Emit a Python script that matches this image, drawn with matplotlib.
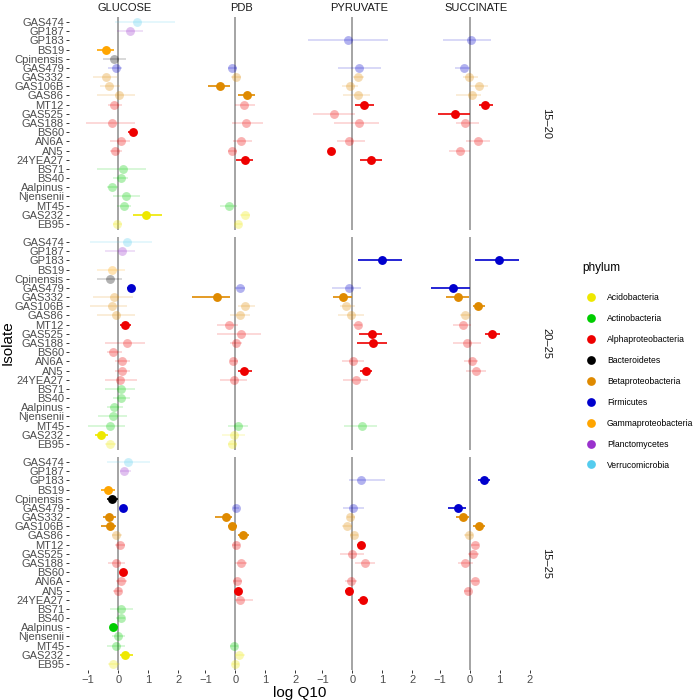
import matplotlib.pyplot as plt
from matplotlib.lines import Line2D

plt.rcParams["font.family"] = ["Liberation Sans", "DejaVu Sans"]

isolates = ["GAS474", "GP187", "GP183", "BS19", "Cpinensis", "GAS479", "GAS332",
            "GAS106B", "GAS86", "MT12", "GAS525", "GAS188", "BS60", "AN6A", "AN5",
            "24YEA27", "BS71", "BS40", "Aalpinus", "Njensenii", "MT45", "GAS232", "EB95"]
isolate_phylum = {
    "GAS474": "Verrucomicrobia", "GP187": "Planctomycetes", "GP183": "Firmicutes",
    "BS19": "Gammaproteobacteria", "Cpinensis": "Bacteroidetes", "GAS479": "Firmicutes",
    "GAS332": "Betaproteobacteria", "GAS106B": "Betaproteobacteria", "GAS86": "Betaproteobacteria",
    "MT12": "Alphaproteobacteria", "GAS525": "Alphaproteobacteria", "GAS188": "Alphaproteobacteria",
    "BS60": "Alphaproteobacteria", "AN6A": "Alphaproteobacteria", "AN5": "Alphaproteobacteria",
    "24YEA27": "Alphaproteobacteria", "BS71": "Actinobacteria", "BS40": "Actinobacteria",
    "Aalpinus": "Actinobacteria", "Njensenii": "Actinobacteria", "MT45": "Actinobacteria",
    "GAS232": "Acidobacteria", "EB95": "Acidobacteria",
}
phyla = ["Acidobacteria", "Actinobacteria", "Alphaproteobacteria", "Bacteroidetes",
         "Betaproteobacteria", "Firmicutes", "Gammaproteobacteria", "Planctomycetes",
         "Verrucomicrobia"]
phylum_colors = ["#EEE800", "#00CD00", "#EE0000", "#000000", "#DF8A00",
                 "#0000CD", "#FFA500", "#9A32CD", "#55CCEE"]

substrates = ["GLUCOSE", "PDB", "PYRUVATE", "SUCCINATE"]
temps = ["15\u201320", "20\u201325", "15\u201325"]

# (isolate, log Q10, lower, upper, significant)
glucose_15_20 = [
    ("GAS474", 0.61, -0.10, 1.89, 0), ("GP187", 0.39, -0.05, 0.83, 0),
    ("BS19", -0.41, -0.70, -0.15, 1), ("Cpinensis", -0.13, -0.50, 0.26, 0),
    ("GAS479", -0.08, -0.33, 0.11, 0), ("GAS332", -0.41, -0.83, -0.05, 0),
    ("GAS106B", -0.30, -0.61, 0.05, 0), ("GAS86", 0.02, -0.72, 0.56, 0),
    ("MT12", -0.13, -0.33, 0.11, 0), ("GAS188", -0.21, -1.08, 0.56, 0),
    ("BS60", 0.48, 0.33, 0.63, 1), ("AN6A", 0.08, -0.28, 0.39, 0),
    ("AN5", -0.11, -0.28, 0.11, 0), ("BS71", 0.17, -0.72, 0.91, 0),
    ("BS40", 0.08, -0.17, 0.33, 0), ("Aalpinus", -0.20, -0.39, 0.00, 0),
    ("Njensenii", 0.26, -0.17, 0.72, 0), ("MT45", 0.19, -0.05, 0.44, 0),
    ("GAS232", 0.94, 0.50, 1.47, 1), ("EB95", -0.03, -0.17, 0.11, 0),
]
pdb_15_20 = [
    ("GAS479", -0.10, -0.25, 0.05, 0), ("GAS332", 0.02, -0.15, 0.20, 0),
    ("GAS106B", -0.52, -0.90, -0.18, 1), ("GAS86", 0.40, 0.10, 0.66, 1),
    ("MT12", 0.28, 0.00, 0.66, 0), ("GAS188", 0.36, -0.12, 0.93, 0),
    ("AN6A", 0.19, -0.07, 0.54, 0), ("AN5", -0.12, -0.23, 0.04, 0),
    ("24YEA27", 0.31, 0.02, 0.60, 1), ("MT45", -0.21, -0.51, 0.04, 0),
    ("GAS232", 0.33, 0.16, 0.49, 0), ("EB95", 0.09, -0.01, 0.21, 0),
]
pyruvate_15_20 = [
    ("GP183", -0.16, -1.47, 1.20, 0), ("GAS479", 0.22, -0.49, 0.96, 0),
    ("GAS332", 0.20, 0.03, 0.37, 0), ("GAS106B", -0.07, -0.36, 0.20, 0),
    ("GAS86", 0.18, -0.30, 0.59, 0), ("MT12", 0.39, 0.09, 0.72, 1),
    ("GAS525", -0.60, -1.33, 0.09, 0), ("GAS188", 0.22, -0.63, 0.87, 0),
    ("AN6A", -0.10, -0.52, 0.42, 0), ("AN5", -0.71, -0.80, -0.60, 1),
    ("24YEA27", 0.62, 0.26, 0.98, 1),
]
succinate_15_20 = [
    ("GP183", 0.04, -0.89, 0.72, 0), ("GAS479", -0.19, -0.50, 0.00, 0),
    ("GAS332", -0.03, -0.22, 0.28, 0), ("GAS106B", 0.33, 0.00, 0.61, 0),
    ("GAS86", 0.08, -0.44, 0.39, 0), ("MT12", 0.53, 0.33, 0.78, 1),
    ("GAS525", -0.50, -1.06, 0.00, 1), ("GAS188", -0.16, -0.44, 0.33, 0),
    ("AN6A", 0.27, -0.11, 0.67, 0), ("AN5", -0.31, -0.67, 0.00, 0),
]
glucose_20_25 = [
    ("GAS474", 0.29, -0.94, 1.11, 0), ("GP187", 0.11, -0.44, 0.56, 0),
    ("BS19", -0.21, -0.72, 0.22, 0), ("Cpinensis", -0.27, -0.72, 0.11, 0),
    ("GAS479", 0.41, 0.28, 0.56, 1), ("GAS332", -0.13, -0.83, 0.50, 0),
    ("GAS106B", -0.21, -0.94, 0.28, 0), ("GAS86", -0.06, -0.72, 0.56, 0),
    ("MT12", 0.22, 0.06, 0.41, 1), ("GAS188", 0.28, -0.44, 0.89, 0),
    ("BS60", -0.16, -0.39, 0.11, 0), ("AN6A", 0.14, -0.11, 0.39, 0),
    ("AN5", 0.12, -0.11, 0.39, 0), ("24YEA27", 0.06, -0.44, 0.61, 0),
    ("BS71", 0.10, -0.44, 0.56, 0), ("BS40", 0.10, -0.17, 0.39, 0),
    ("Aalpinus", -0.13, -0.39, 0.17, 0), ("Njensenii", -0.19, -0.67, 0.28, 0),
    ("MT45", -0.27, -1.00, 0.22, 0), ("GAS232", -0.58, -0.78, -0.33, 1),
    ("EB95", -0.27, -0.44, -0.06, 0),
]
pdb_20_25 = [
    ("GAS479", 0.17, -0.01, 0.32, 0), ("GAS332", -0.61, -1.43, -0.18, 1),
    ("GAS106B", 0.32, 0.10, 0.66, 0), ("GAS86", 0.14, -0.18, 0.49, 0),
    ("MT12", -0.20, -0.62, 0.10, 0), ("GAS525", 0.18, -0.62, 0.86, 0),
    ("GAS188", 0.01, -0.18, 0.21, 0), ("AN6A", -0.07, -0.18, 0.10, 0),
    ("AN5", 0.30, 0.10, 0.57, 1), ("24YEA27", -0.03, -0.51, 0.38, 0),
    ("MT45", 0.10, -0.26, 0.41, 0), ("GAS232", -0.04, -0.46, 0.32, 0),
    ("EB95", -0.10, -0.23, 0.04, 0),
]
pyruvate_20_25 = [
    ("GP183", 0.98, 0.20, 1.64, 1), ("GAS479", -0.13, -0.69, 0.29, 0),
    ("GAS332", -0.33, -0.66, -0.02, 1), ("GAS106B", -0.23, -0.41, 0.09, 0),
    ("GAS86", -0.04, -0.47, 0.37, 0), ("MT12", 0.18, 0.03, 0.31, 0),
    ("GAS525", 0.64, 0.23, 1.00, 1), ("GAS188", 0.67, 0.14, 1.14, 1),
    ("AN6A", 0.02, -0.36, 0.40, 0), ("AN5", 0.44, 0.26, 0.64, 1),
    ("24YEA27", 0.13, -0.30, 0.53, 0), ("MT45", 0.31, -0.27, 0.81, 0),
]
succinate_20_25 = [
    ("GP183", 0.97, 0.19, 1.64, 1), ("GAS479", -0.56, -1.28, 0.00, 1),
    ("GAS332", -0.38, -0.78, -0.02, 1), ("GAS106B", 0.29, 0.11, 0.50, 1),
    ("GAS86", -0.14, -0.33, 0.06, 0), ("MT12", -0.21, -0.56, 0.06, 0),
    ("GAS525", 0.74, 0.50, 1.02, 1), ("GAS188", -0.08, -0.56, 0.39, 0),
    ("AN6A", 0.07, -0.17, 0.28, 0), ("AN5", 0.23, -0.11, 0.56, 0),
]
glucose_15_25 = [
    ("GAS474", 0.34, -0.39, 1.06, 0), ("GP187", 0.20, 0.06, 0.44, 0),
    ("BS19", -0.33, -0.56, -0.11, 1), ("Cpinensis", -0.20, -0.39, 0.00, 1),
    ("GAS479", 0.16, 0.06, 0.26, 1), ("GAS332", -0.30, -0.50, -0.06, 1),
    ("GAS106B", -0.29, -0.56, -0.06, 1), ("GAS86", -0.08, -0.22, 0.11, 0),
    ("MT12", 0.06, -0.11, 0.22, 0), ("GAS188", -0.06, -0.33, 0.22, 0),
    ("BS60", 0.16, 0.06, 0.28, 1), ("AN6A", 0.10, -0.06, 0.28, 0),
    ("AN5", -0.01, -0.17, 0.11, 0), ("BS71", 0.08, -0.28, 0.50, 0),
    ("BS40", 0.08, -0.06, 0.22, 0), ("Aalpinus", -0.16, -0.28, 0.00, 1),
    ("Njensenii", 0.00, -0.22, 0.22, 0), ("MT45", -0.08, -0.39, 0.22, 0),
    ("GAS232", 0.24, 0.06, 0.50, 1), ("EB95", -0.16, -0.33, 0.06, 0),
]
pdb_15_25 = [
    ("GAS479", 0.02, -0.07, 0.12, 0), ("GAS332", -0.31, -0.68, -0.12, 1),
    ("GAS106B", -0.10, -0.23, 0.04, 1), ("GAS86", 0.27, 0.10, 0.46, 1),
    ("MT12", 0.02, -0.10, 0.16, 0), ("GAS188", 0.18, -0.01, 0.38, 0),
    ("AN6A", 0.07, -0.07, 0.21, 0), ("AN5", 0.08, -0.01, 0.18, 1),
    ("24YEA27", 0.14, -0.01, 0.60, 0), ("MT45", -0.06, -0.18, 0.10, 0),
    ("GAS232", 0.13, -0.01, 0.32, 0), ("EB95", -0.01, -0.12, 0.12, 0),
]
pyruvate_15_25 = [
    ("GP183", 0.30, -0.13, 1.07, 0), ("GAS479", 0.02, -0.33, 0.40, 0),
    ("GAS332", -0.08, -0.19, 0.07, 0), ("GAS106B", -0.18, -0.36, -0.02, 0),
    ("GAS86", 0.04, -0.08, 0.20, 0), ("MT12", 0.28, 0.14, 0.42, 1),
    ("GAS525", 0.00, -0.41, 0.37, 0), ("GAS188", 0.41, 0.09, 0.76, 0),
    ("AN6A", -0.04, -0.24, 0.14, 0), ("AN5", -0.13, -0.24, -0.02, 1),
    ("24YEA27", 0.34, 0.20, 0.51, 1),
]
succinate_15_25 = [
    ("GP183", 0.47, 0.28, 0.67, 1), ("GAS479", -0.38, -0.72, -0.11, 1),
    ("GAS332", -0.22, -0.44, -0.02, 1), ("GAS106B", 0.30, 0.11, 0.50, 1),
    ("GAS86", -0.03, -0.17, 0.13, 0), ("MT12", 0.18, 0.06, 0.31, 0),
    ("GAS525", 0.12, -0.06, 0.33, 0), ("GAS188", -0.14, -0.39, 0.11, 0),
    ("AN6A", 0.17, 0.00, 0.33, 0), ("AN5", -0.06, -0.17, 0.06, 0),
]

facets = [
    [glucose_15_20, pdb_15_20, pyruvate_15_20, succinate_15_20],
    [glucose_20_25, pdb_20_25, pyruvate_20_25, succinate_20_25],
    [glucose_15_25, pdb_15_25, pyruvate_15_25, succinate_15_25],
]

color_of = dict(zip(phyla, phylum_colors))
W = H = 700
fig = plt.figure(figsize=(7, 7), dpi=100)


def px_axes(x0, y0, w, h):
    return fig.add_axes([x0 / W, 1 - (y0 + h) / H, w / W, h / H])


panel_left, panel_w, panel_gap = 69, 111.4, 5.7
panel_top, panel_h, row_gap = 16.5, 213, 7
tick_col = "#4D4D4D"

for r, temp in enumerate(temps):
    for c, sub in enumerate(substrates):
        x0 = panel_left + c * (panel_w + panel_gap)
        y0 = panel_top + r * (panel_h + row_gap)
        ax = px_axes(x0, y0, panel_w, panel_h)
        ax.axvline(0, color="#8C8C8C", lw=1.1, zorder=1)
        for name, est, lo, hi, sig in facets[r][c]:
            y = isolates.index(name)
            col = color_of[isolate_phylum[name]]
            ax.hlines(y, lo, hi, color=col, lw=1.2, alpha=1 if sig else 0.18, zorder=2)
            ax.plot(est, y, "o", ms=6.4, color=col, mec="none",
                    alpha=1 if sig else 0.3, zorder=3)
        ax.set_xlim(-1.64, 2.07)
        ax.set_ylim(len(isolates) - 0.4, -0.6)
        ax.set_xticks([-1, 0, 1, 2])
        ax.set_xticklabels(["\u22121", "0", "1", "2"])
        ax.set_yticks(range(len(isolates)))
        ax.set_yticklabels(isolates)
        ax.tick_params(length=2.2, width=0.7, color="#333333", labelcolor=tick_col,
                       labelsize=8, pad=1.5)
        if c > 0:
            ax.tick_params(axis="y", left=False, labelleft=False)
        if r < 2:
            ax.tick_params(axis="x", bottom=False, labelbottom=False)
        for s in ax.spines.values():
            s.set_visible(False)
        ax.set_facecolor("none")
        if r == 0:
            fig.text((x0 + panel_w / 2) / W, 1 - 8 / H, sub, ha="center", va="center",
                     fontsize=8, color="#1A1A1A")
        if c == 3:
            fig.text(546 / W, 1 - (y0 + panel_h / 2) / H, temp, ha="center", va="center",
                     rotation=-90, fontsize=8, color="#1A1A1A")

fig.text(8 / W, 1 - 343 / H, "Isolate", rotation=90, ha="center", va="center", fontsize=11)
fig.text(300 / W, 1 - 693 / H, "log Q10", ha="center", va="center", fontsize=11)

# legend: title placed separately so the gap to the first key matches
fig.text(582 / W, 1 - 268 / H, "phylum", ha="left", va="center", fontsize=8.5)
handles = [Line2D([], [], marker="o", ls="none", ms=6.3, color=col, mec="none")
           for col in phylum_colors]
leg = fig.legend(handles, phyla, loc="upper left",
                 bbox_to_anchor=(582 / W, 1 - 290 / H), frameon=False, fontsize=6.2,
                 labelspacing=1.38, handletextpad=1.3,
                 borderaxespad=0, handlelength=1.2)

fig.savefig("out.png", dpi=100)
